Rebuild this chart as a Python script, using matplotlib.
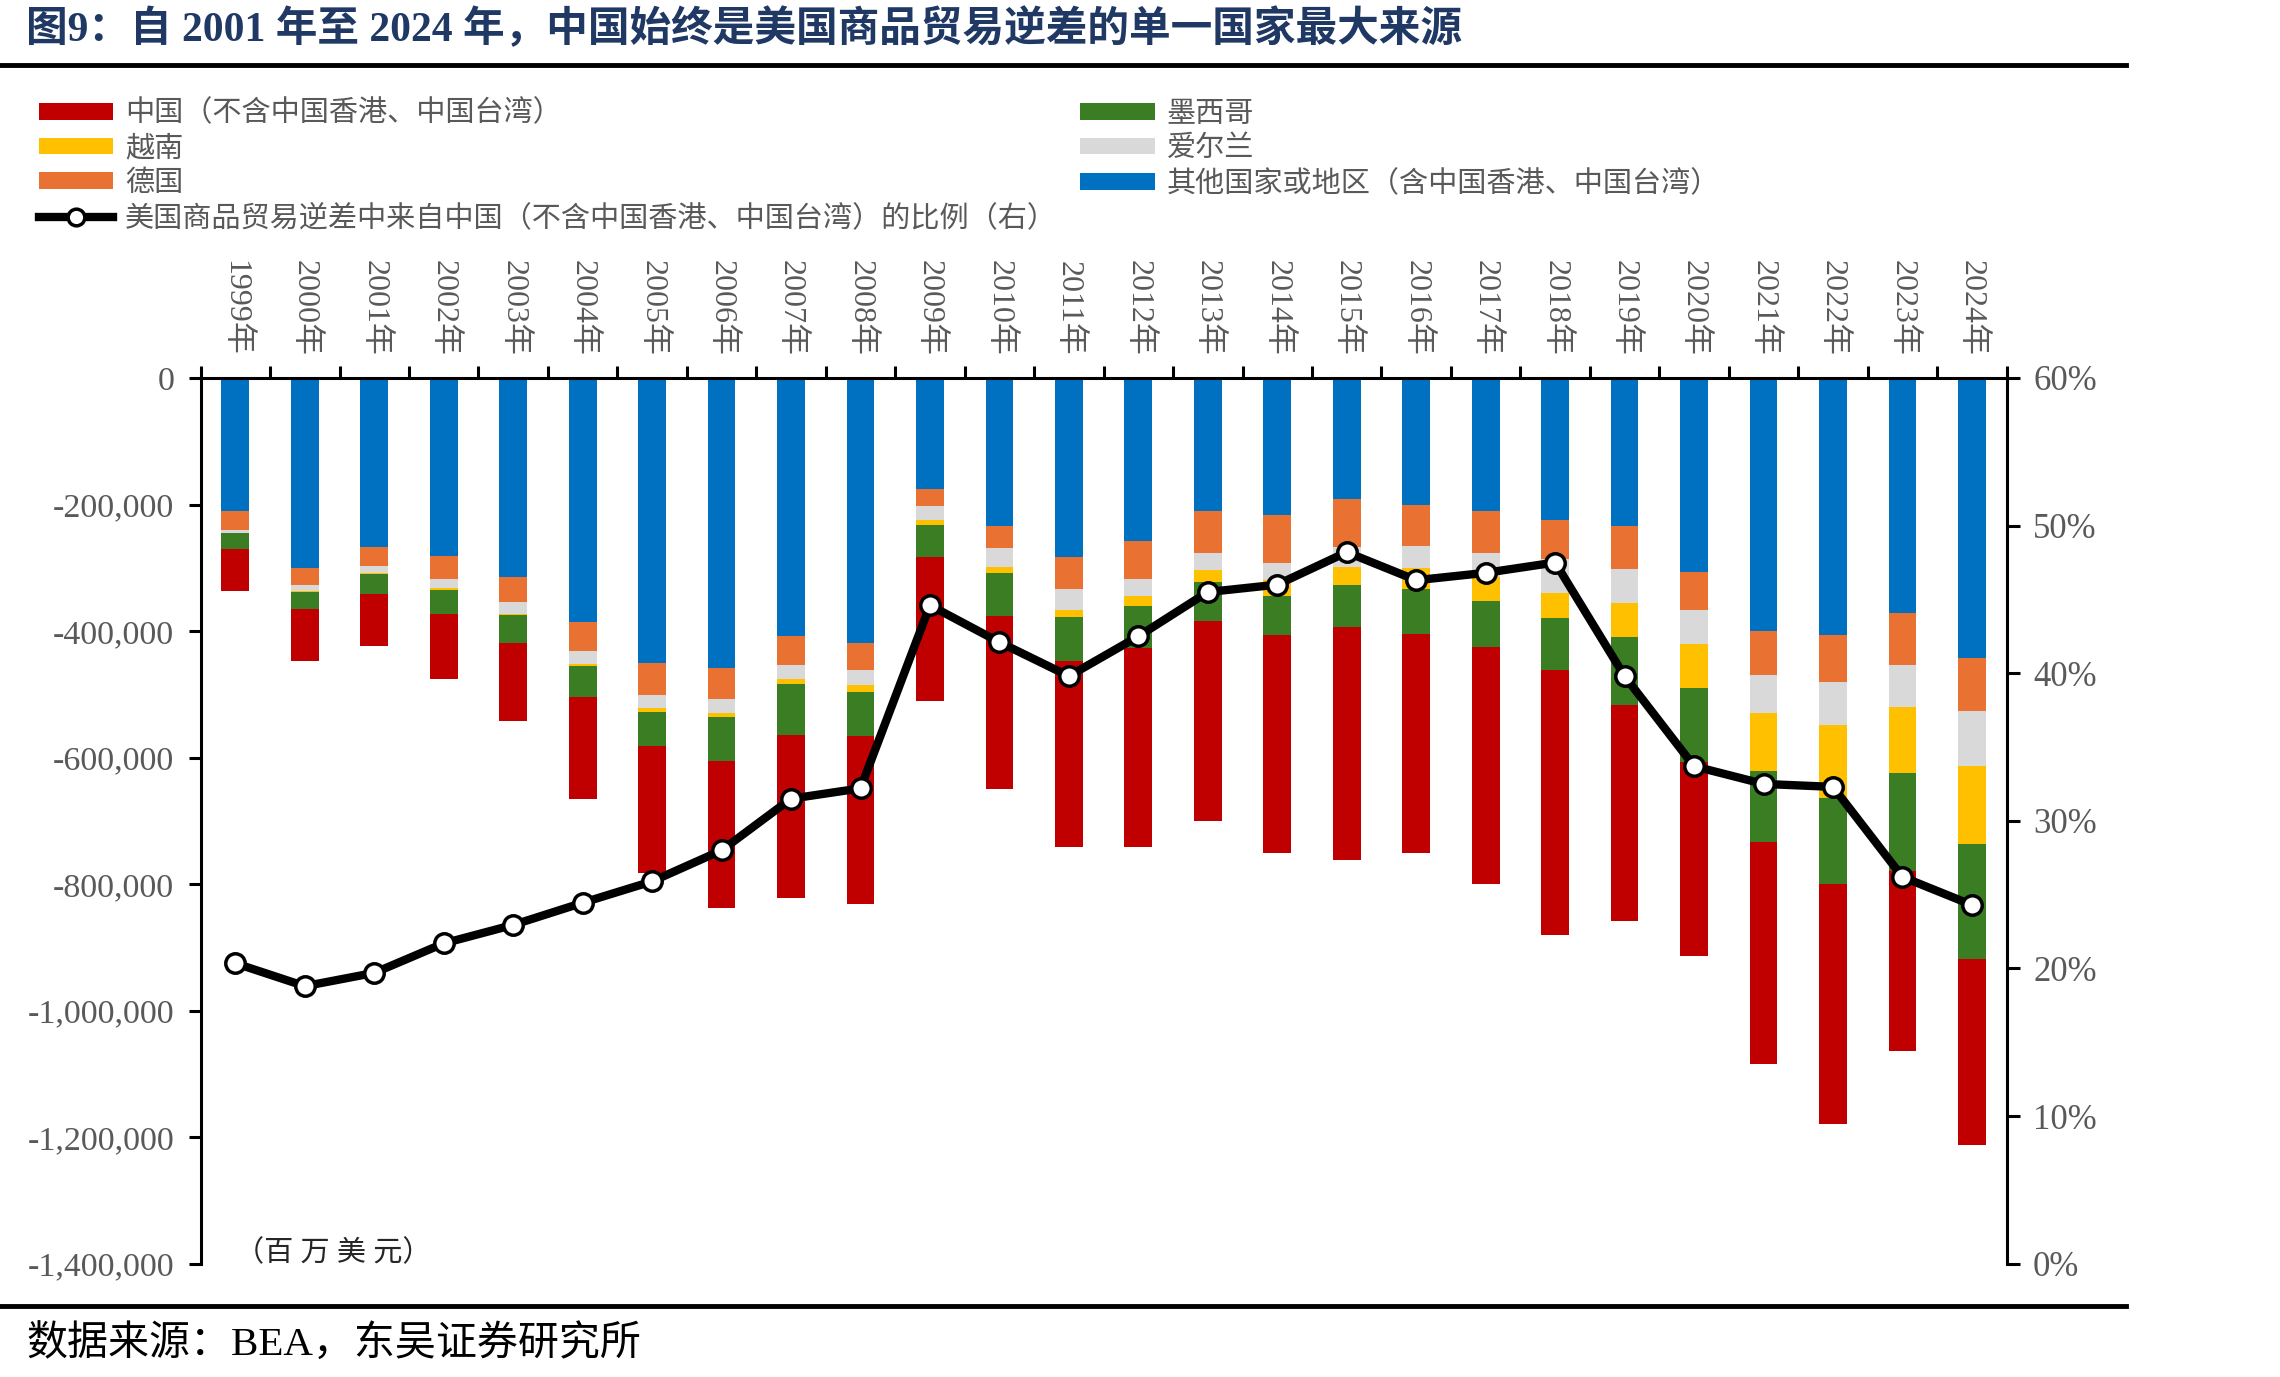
import numpy as np
import matplotlib.pyplot as plt
from matplotlib.patches import Patch
from matplotlib.lines import Line2D
from matplotlib.ticker import FuncFormatter

plt.rcParams['font.family'] = ['Liberation Serif', 'Noto Sans CJK SC', 'DejaVu Sans']

# Data (百万美元, deficits as negative values)
years = list(range(1999, 2025))
year_labels = [str(y) + "年" for y in years]

other = [-210000, -300000, -267000, -281000, -315000, -385000, -451000, -459000, -408000, -419000,
         -175000, -234000, -283000, -258000, -210000, -217000, -191000, -201000, -211000, -224000,
         -234000, -307000, -400000, -407000, -371000, -442000]
germany = [-31000, -28000, -30000, -36000, -39000, -47000, -50000, -49000, -45000, -42000,
           -28000, -35000, -50000, -60000, -67000, -76000, -76000, -65000, -65000, -62000,
           -68000, -59000, -70000, -74000, -83000, -85000]
ireland = [-4000, -9000, -12000, -15000, -19000, -20000, -21000, -21000, -23000, -25000,
           -22000, -29000, -33000, -27000, -26000, -26000, -32000, -35000, -39000, -54000,
           -53000, -54000, -60000, -68000, -66000, -87000]
vietnam = [0, -1000, -1000, -3000, -2000, -4000, -6000, -7000, -8000, -11000,
           -8000, -10000, -12000, -15000, -20000, -26000, -29000, -33000, -37000, -39000,
           -55000, -70000, -92000, -115000, -105000, -123000]
mexico = [-25000, -27000, -31000, -38000, -44000, -48000, -54000, -69000, -80000, -69000,
          -50000, -68000, -69000, -67000, -61000, -61000, -66000, -70000, -74000, -83000,
          -107000, -117000, -111000, -136000, -154000, -182000]
china = [-67000, -82000, -82000, -103000, -123000, -161000, -201000, -232000, -258000, -266000,
         -227000, -273000, -294000, -314000, -316000, -345000, -368000, -347000, -374000, -418000,
         -341000, -307000, -351000, -380000, -285000, -294000]

china_share = [20.35, 18.8, 19.7, 21.7, 22.95, 24.45, 25.9, 28.0, 31.5, 32.2,
               44.6, 42.1, 39.8, 42.5, 45.5, 46.0, 48.2, 46.3, 46.8, 47.5,
               39.8, 33.7, 32.5, 32.3, 26.2, 24.3]

series = [
    ("其他国家或地区（含中国香港、中国台湾）", other, '#0070C0'),
    ("德国", germany, '#E97132'),
    ("爱尔兰", ireland, '#D9D9D9'),
    ("越南", vietnam, '#FFC000'),
    ("墨西哥", mexico, '#3B7D23'),
    ("中国（不含中国香港、中国台湾）", china, '#C00000'),
]

grey_text = '#595959'

fig = plt.figure(figsize=(22.8, 13.77), dpi=100)
ax = fig.add_axes([0.088, 0.0823, 0.7921, 0.6432])

x = np.arange(len(years))
bottom = np.zeros(len(years))
bar_handles = {}
for name, values, color in series:
    values = np.array(values, dtype=float)
    ax.bar(x, values, bottom=bottom, width=0.4, color=color, edgecolor='none', zorder=2)
    bar_handles[name] = Patch(facecolor=color)
    bottom = bottom + values

ax.set_xlim(-0.5, len(years) - 0.5)
ax.set_ylim(-1400000, 0)
ax.set_yticks(np.arange(-1400000, 1, 200000))
ax.yaxis.set_major_formatter(FuncFormatter(lambda v, p: "{:,.0f}".format(v)))

# Top axis with year labels
ax.xaxis.tick_top()
ax.set_xticks(np.arange(-0.5, len(years), 1.0))
ax.set_xticklabels([])
ax.set_xticks(x, minor=True)
ax.set_xticklabels(year_labels, minor=True, rotation=-90, fontsize=23, color=grey_text)
ax.tick_params(axis='x', which='major', direction='out', length=9, width=2.2, top=True, bottom=False)
ax.tick_params(axis='x', which='minor', length=0, pad=16, top=True, bottom=False)
ax.tick_params(axis='y', direction='out', length=9, width=2.2, labelsize=24.5, labelcolor=grey_text, pad=10)

for side in ['bottom', 'right']:
    ax.spines[side].set_visible(False)
ax.spines['top'].set_linewidth(2.2)
ax.spines['left'].set_linewidth(2.2)

ax.text(0.0, -1384000, "（百 万 美 元）", fontsize=21, color='#262626', va='center')

# Right axis: share line
ax2 = ax.twinx()
ax2.set_ylim(0, 60)
ax2.set_yticks(np.arange(0, 61, 10))
ax2.yaxis.set_major_formatter(FuncFormatter(lambda v, p: "{:.0f}%".format(v)))
ax2.plot(x, china_share, color='black', linewidth=6, marker='o', markersize=14,
         markerfacecolor='white', markeredgecolor='black', markeredgewidth=2.5, zorder=5)
ax2.tick_params(axis='y', direction='out', length=9, width=2.2, labelsize=25, labelcolor=grey_text, pad=10)
for side in ['bottom', 'left', 'top']:
    ax2.spines[side].set_visible(False)
ax2.spines['right'].set_linewidth(2.2)

# Legend
line_handle = Line2D([], [], color='black', linewidth=6, marker='o', markersize=12,
                     markerfacecolor='white', markeredgecolor='black', markeredgewidth=2.5)
handles = [bar_handles["中国（不含中国香港、中国台湾）"], bar_handles["越南"], bar_handles["德国"], line_handle,
           bar_handles["墨西哥"], bar_handles["爱尔兰"], bar_handles["其他国家或地区（含中国香港、中国台湾）"]]
labels = ["中国（不含中国香港、中国台湾）", "越南", "德国",
          "美国商品贸易逆差中来自中国（不含中国香港、中国台湾）的比例（右）",
          "墨西哥", "爱尔兰", "其他国家或地区（含中国香港、中国台湾）"]
leg = fig.legend(handles, labels, loc='upper left', bbox_to_anchor=(0.0171, 0.9275), ncol=2,
                 frameon=False, fontsize=21, handlelength=2.55, handleheight=0.5, handletextpad=0.4,
                 labelspacing=0.27, columnspacing=0.8, borderpad=0, borderaxespad=0, numpoints=1)
for t in leg.get_texts():
    t.set_color(grey_text)

# Title, rules and source
fig.text(0.0114, 0.979, "图9：自 2001 年至 2024 年，中国始终是美国商品贸易逆差的单一国家最大来源",
         fontsize=30, fontweight='bold', color='#1F3864', va='center', ha='left')
fig.add_artist(Line2D([0, 0.9325], [0.9525, 0.9525], color='black', linewidth=3.5))
fig.add_artist(Line2D([0, 0.9325], [0.0515, 0.0515], color='black', linewidth=3.5))
fig.text(0.0114, 0.023, "数据来源：BEA，东吴证券研究所", fontsize=29.5, color='black', va='center', ha='left')

fig.savefig("out.png", dpi=100)
